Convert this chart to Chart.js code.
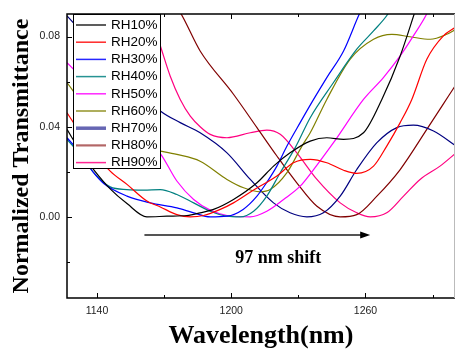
<!DOCTYPE html>
<html>
<head>
<meta charset="utf-8">
<script src="https://cdn.jsdelivr.net/npm/chart.js@4/dist/chart.umd.min.js"></script>
<style>
  html, body { margin: 0; padding: 0; background: #fff; }
  #wrap { width: 456px; height: 350px; }
</style>
</head>
<body>
<div id="wrap"><canvas id="chart" width="456" height="350"></canvas></div>
<script>
// Transmittance spectra, [wavelength nm, normalized transmittance]
const rh10 = [[1126.6,0.0388],[1132.5,0.0292],[1138.5,0.0210],[1145.9,0.0124],[1153.4,0.0059],[1162.3,0],[1171.3,0.0003],[1180.2,0.0006],[1186.1,0.0018],[1192.1,0.0033],[1201.0,0.0077],[1211.5,0.0151],[1218.9,0.0225],[1226.3,0.0284],[1235.3,0.0336],[1242.7,0.0351],[1250.2,0.0344],[1259.1,0.0373],[1267.3,0.0521],[1275.5,0.0714],[1282.0,0.0907],[1284.4,0.098]];
const rh20 = [[1126.6,0.0462],[1132.5,0.0373],[1138.5,0.0292],[1145.9,0.0203],[1153.4,0.0144],[1162.3,0.0070],[1168.3,0.0044],[1175.7,0.0010],[1181.7,0],[1187.6,0.0006],[1195.1,0.0033],[1201.0,0.0062],[1210.0,0.0119],[1220.4,0.0181],[1227.8,0.0240],[1235.3,0.0255],[1242.7,0.0240],[1250.2,0.0207],[1256.1,0.0193],[1263.6,0.0225],[1269.5,0.0314],[1275.5,0.0418],[1280.7,0.0521],[1287.4,0.0699],[1294.8,0.0803],[1300.0,0.0840]];
const rh30 = [[1126.6,0.0351],[1132.5,0.0284],[1138.5,0.0196],[1143.0,0.0148],[1153.4,0.0092],[1163.8,0.0062],[1175.7,0.0040],[1183.2,0.0018],[1190.6,0],[1198.1,0.0003],[1205.3,0.0033],[1211.5,0.0092],[1215.9,0.0153],[1220.4,0.0225],[1224.9,0.0314],[1230.8,0.0418],[1236.8,0.0521],[1242.7,0.0618],[1250.2,0.0736],[1257.3,0.0901],[1260.6,0.0966]];
const rh40 = [[1126.6,0.0344],[1132.5,0.0277],[1138.5,0.0196],[1145.9,0.0133],[1153.4,0.0121],[1160.8,0.0119],[1168.3,0.0121],[1175.7,0.0099],[1183.2,0.0062],[1190.6,0.0025],[1198.1,0.0003],[1204.0,0],[1210.0,0.0025],[1215.9,0.0092],[1221.9,0.0196],[1228.6,0.0307],[1235.3,0.0440],[1245.7,0.0596],[1256.1,0.0744],[1263.6,0.0825],[1270.1,0.0901],[1272.5,0.0944]];
const rh50 = [[1126.6,0.0684],[1138.5,0.0566],[1153.4,0.0418],[1168.3,0.0281],[1175.7,0.0159],[1183.2,0.0077],[1190.6,0.0030],[1198.1,0.0006],[1208.5,0],[1215.9,0.0025],[1223.4,0.0077],[1230.8,0.0136],[1236.8,0.0210],[1245.7,0.0329],[1259.1,0.0521],[1268.0,0.0618],[1275.5,0.0714],[1281.4,0.0803],[1287.4,0.0901],[1289.6,0.0951]];
const rh60 = [[1126.6,0.0596],[1135.5,0.0478],[1145.9,0.0373],[1156.4,0.0314],[1168.3,0.0292],[1175.7,0.0277],[1186.1,0.0247],[1198.1,0.0166],[1205.5,0.0129],[1212.9,0.0111],[1217.4,0.0121],[1224.9,0.0196],[1231.6,0.0314],[1235.3,0.0373],[1242.7,0.0521],[1253.1,0.0699],[1263.6,0.0788],[1271.8,0.0810],[1279.9,0.0799],[1288.9,0.0788],[1296.3,0.0810],[1300.5,0.0833]];
const rh70 = [[1126.6,0.0892],[1147.4,0.0670],[1168.3,0.0470],[1177.2,0.0418],[1186.1,0.0373],[1198.1,0.0284],[1208.5,0.0166],[1218.9,0.0062],[1226.3,0.0018],[1233.8,0],[1241.2,0.0018],[1248.7,0.0092],[1256.1,0.0210],[1265.1,0.0329],[1274.0,0.0396],[1281.4,0.0407],[1290.4,0.0381],[1300.5,0.0314]];
const rh80 = [[1172.7,0.0966],[1177.2,0.0907],[1186.1,0.0736],[1201.0,0.0544],[1211.5,0.0396],[1220.4,0.0270],[1229.3,0.0151],[1238.3,0.0047],[1248.7,0],[1256.1,0.0010],[1265.1,0.0092],[1275.5,0.0210],[1287.4,0.0388],[1297.1,0.0536],[1300.5,0.0588]];
const rh90 = [[1161.6,0.0966],[1163.5,0.0904],[1168.3,0.0759],[1172.7,0.0625],[1177.2,0.0521],[1181.7,0.0447],[1186.1,0.0400],[1190.6,0.0366],[1198.1,0.0351],[1208.5,0.0373],[1215.9,0.0385],[1221.9,0.0366],[1229.3,0.0284],[1238.3,0.0166],[1248.7,0.0062],[1256.1,0.0018],[1262.1,0],[1269.5,0.0018],[1277.0,0.0092],[1284.4,0.0166],[1293.3,0.0225],[1300.5,0.0284]];

const seriesNames = ['RH10%', 'RH20%', 'RH30%', 'RH40%', 'RH50%', 'RH60%', 'RH70%', 'RH80%', 'RH90%'];
const seriesData = [rh10, rh20, rh30, rh40, rh50, rh60, rh70, rh80, rh90];
const colors = ['#000000', '#ff0000', '#0000ff', '#008080', '#ff00ff', '#808000', '#000080', '#800000', '#ff0080'];

// x and y ranges, tick steps
const xMin = 1126.6, xMax = 1300, xStep = 30, xLabelStep = 60;
const yMin = -0.036, yMax = 0.09, yStep = 0.02;

// "97 nm shift" arrow
const shiftFrom = 1161.2, shiftTo = 1262.1, shiftLevel = -0.008;
const shiftText = '97 nm shift';
const shiftTextAt = [1221, -0.0203];

const serif = "'Liberation Serif', 'Times New Roman', serif";
const sans = "'Liberation Sans', Arial, sans-serif";

const frame = {
  id: 'frame',
  afterDatasetsDraw(chart) {
    const { ctx, chartArea: a, scales: { x, y } } = chart;
    ctx.save();
    ctx.strokeStyle = '#000';
    ctx.lineWidth = 1;
    x.ticks.forEach(t => {
      const px = Math.round(x.getPixelForValue(t.value)) + 0.5;
      const len = Math.abs(t.value % xLabelStep) < 1e-6 ? 5 : 3;
      ctx.beginPath();
      ctx.moveTo(px, a.bottom); ctx.lineTo(px, a.bottom - len);
      ctx.moveTo(px, a.top); ctx.lineTo(px, a.top + len);
      ctx.stroke();
    });
    y.ticks.forEach(t => {
      const py = Math.round(y.getPixelForValue(t.value)) + 0.5;
      const len = Math.round(t.value * 100) % 4 === 0 ? 5 : 3;
      ctx.beginPath();
      ctx.moveTo(a.left, py); ctx.lineTo(a.left + len, py);
      ctx.stroke();
    });
    // plot border
    ctx.lineWidth = 1.5;
    ctx.beginPath();
    ctx.moveTo(a.right, a.top);
    ctx.lineTo(a.left, a.top);
    ctx.lineTo(a.left, a.bottom);
    ctx.lineTo(a.right, a.bottom);
    ctx.stroke();
    ctx.strokeStyle = '#bbb';
    ctx.lineWidth = 1;
    ctx.beginPath();
    ctx.moveTo(a.right - 0.5, a.top); ctx.lineTo(a.right - 0.5, a.bottom);
    ctx.stroke();

    // shift arrow
    const x0 = x.getPixelForValue(shiftFrom), x1 = x.getPixelForValue(shiftTo);
    const ay = Math.round(y.getPixelForValue(shiftLevel));
    ctx.strokeStyle = '#555';
    ctx.lineWidth = 2;
    ctx.beginPath();
    ctx.moveTo(x0, ay); ctx.lineTo(x1 - 8, ay);
    ctx.stroke();
    ctx.fillStyle = '#000';
    ctx.beginPath();
    ctx.moveTo(x1, ay); ctx.lineTo(x1 - 10, ay - 3.5); ctx.lineTo(x1 - 10, ay + 3.5);
    ctx.closePath();
    ctx.fill();
    ctx.font = 'bold 18px ' + serif;
    ctx.textAlign = 'center';
    ctx.textBaseline = 'alphabetic';
    ctx.fillText(shiftText, x.getPixelForValue(shiftTextAt[0]), y.getPixelForValue(shiftTextAt[1]));
    ctx.restore();
  }
};

const boxLegend = {
  id: 'boxLegend',
  afterDraw(chart) {
    const { ctx, chartArea: a } = chart;
    const left = a.left + 6, top = a.top, w = 87, rowH = 17.2;
    const h = rowH * seriesNames.length + 0.5 + 0.5 * rowH - 8;
    ctx.save();
    ctx.fillStyle = '#fff';
    ctx.fillRect(left, top, w, 154);
    ctx.strokeStyle = '#000';
    ctx.lineWidth = 1;
    ctx.strokeRect(left + 0.5, top + 0.5, w, 154);
    ctx.font = '13.5px ' + sans;
    ctx.textBaseline = 'middle';
    ctx.textAlign = 'left';
    chart.data.datasets.forEach((ds, i) => {
      const cy = top + 11 + i * rowH;
      ctx.strokeStyle = ds.borderColor;
      ctx.lineWidth = ds.legendWidth || 1.5;
      ctx.globalAlpha = ds.legendWidth ? 0.6 : 0.85;
      ctx.beginPath();
      ctx.moveTo(left + 3, cy); ctx.lineTo(left + 33, cy);
      ctx.stroke();
      ctx.globalAlpha = 1;
      ctx.fillStyle = '#000';
      ctx.fillText(ds.label, left + 38, cy);
    });
    ctx.restore();
  }
};

new Chart(document.getElementById('chart'), {
  type: 'line',
  data: {
    datasets: seriesNames.map((name, i) => ({
      label: name,
      data: seriesData[i].map(([wl, t]) => ({ x: wl, y: t })),
      borderColor: colors[i],
      borderWidth: 1.2,
      pointRadius: 0,
      fill: false,
      cubicInterpolationMode: 'monotone',
      legendWidth: name === 'RH70%' ? 3.5 : (name === 'RH80%' ? 2.2 : undefined)
    }))
  },
  options: {
    responsive: false,
    animation: false,
    layout: { padding: { top: 14, right: 1, left: 0, bottom: 0 } },
    plugins: { legend: { display: false }, tooltip: { enabled: false } },
    scales: {
      x: {
        type: 'linear',
        min: xMin, max: xMax,
        afterFit: s => { s.height = 52; },
        grid: { display: false, drawTicks: false },
        border: { display: false },
        ticks: {
          stepSize: xStep, includeBounds: false, autoSkip: false, maxRotation: 0,
          padding: 7, color: '#222', font: { family: sans, size: 10.5 },
          callback: v => Math.abs(v % xLabelStep) < 1e-6 ? String(v) : ''
        },
        title: {
          display: true, text: 'Wavelength(nm)', color: '#000',
          font: { family: serif, size: 26, weight: 'bold', lineHeight: 1 },
          padding: { top: 0, bottom: 1 }
        }
      },
      y: {
        min: yMin, max: yMax,
        afterFit: s => { s.width = 67; },
        grid: { display: false, drawTicks: false },
        border: { display: false },
        ticks: {
          stepSize: yStep, includeBounds: false, padding: 7, color: '#222',
          font: { family: sans, size: 10.5 },
          callback: v => Math.round(v * 100) % 4 === 0 ? v.toFixed(2) : ''
        },
        title: {
          display: true, text: 'Normalized Transmittance', color: '#000',
          font: { family: serif, size: 24, weight: 'bold', lineHeight: 1 },
          padding: { top: 10, bottom: 0 }
        }
      }
    }
  },
  plugins: [frame, boxLegend]
});
</script>
</body>
</html>
